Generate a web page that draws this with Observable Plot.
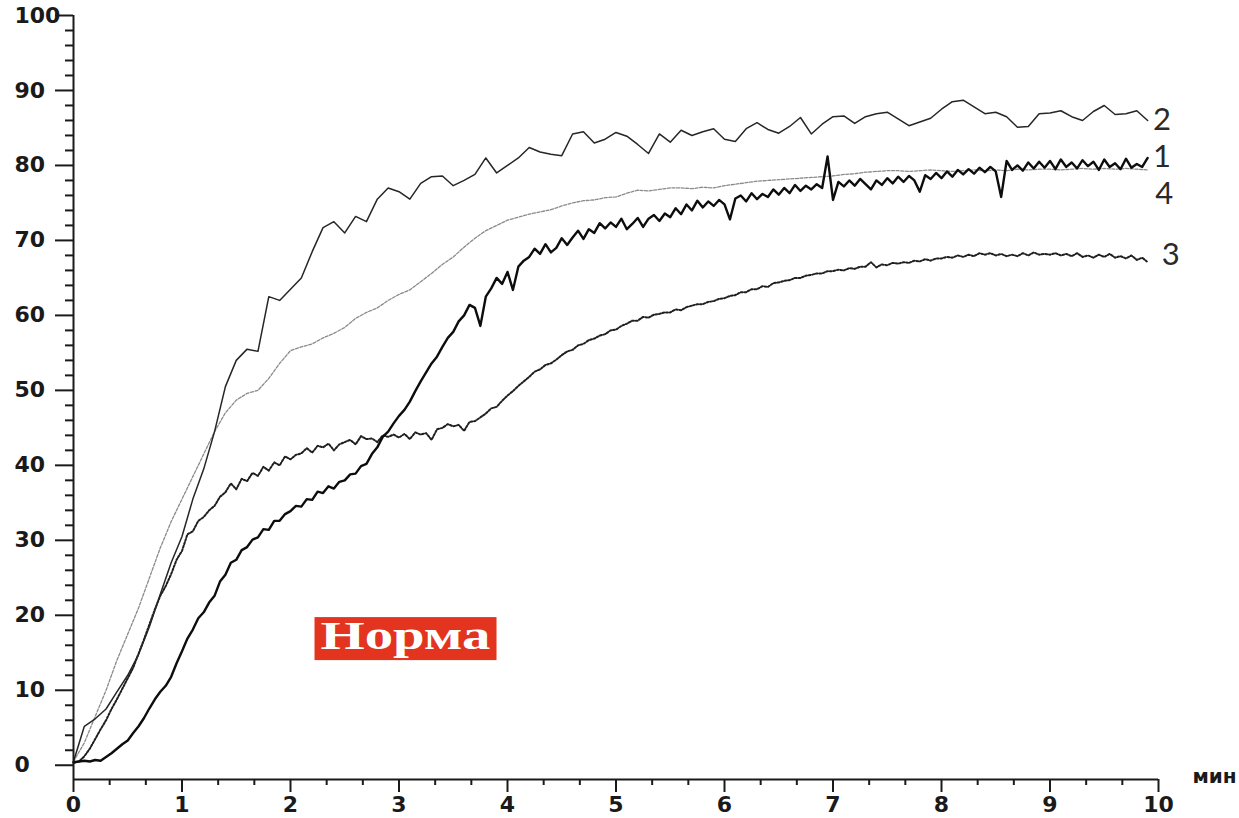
<!DOCTYPE html>
<html>
<head>
<meta charset="utf-8">
<script src="https://cdn.jsdelivr.net/npm/d3@7"></script>
<script src="https://cdn.jsdelivr.net/npm/@observablehq/plot@0.6"></script>
<style>
  html, body { margin: 0; padding: 0; background: #fff; }
  #chart { width: 1239px; height: 818px; overflow: hidden; }
</style>
</head>
<body>
<div id="chart"></div>
<script>
// ---------- data ----------
const minutes = [
  0,0.1,0.2,0.3,0.4,0.5,0.6,0.7,0.8,0.9,
  1,1.1,1.2,1.3,1.4,1.5,1.6,1.7,1.8,1.9,
  2,2.1,2.2,2.3,2.4,2.5,2.6,2.7,2.8,2.9,
  3,3.1,3.2,3.3,3.4,3.5,3.6,3.7,3.8,3.9,
  4,4.1,4.2,4.3,4.4,4.5,4.6,4.7,4.8,4.9,
  5,5.1,5.2,5.3,5.4,5.5,5.6,5.7,5.8,5.9,
  6,6.1,6.2,6.3,6.4,6.5,6.6,6.7,6.8,6.9,
  7,7.1,7.2,7.3,7.4,7.5,7.6,7.7,7.8,7.9,
  8,8.1,8.2,8.3,8.4,8.5,8.6,8.7,8.8,8.9,
  9,9.1,9.2,9.3,9.4,9.5,9.6,9.7,9.8,9.9
];
const minutesFine = [
  0,0.05,0.1,0.15,0.2,0.25,0.3,0.35,0.4,0.45,0.5,0.55,0.6,0.65,0.7,0.75,0.8,0.85,0.9,0.95,
  1,1.05,1.1,1.15,1.2,1.25,1.3,1.35,1.4,1.45,1.5,1.55,1.6,1.65,1.7,1.75,1.8,1.85,1.9,1.95,
  2,2.05,2.1,2.15,2.2,2.25,2.3,2.35,2.4,2.45,2.5,2.55,2.6,2.65,2.7,2.75,2.8,2.85,2.9,2.95,
  3,3.05,3.1,3.15,3.2,3.25,3.3,3.35,3.4,3.45,3.5,3.55,3.6,3.65,3.7,3.75,3.8,3.85,3.9,3.95,
  4,4.05,4.1,4.15,4.2,4.25,4.3,4.35,4.4,4.45,4.5,4.55,4.6,4.65,4.7,4.75,4.8,4.85,4.9,4.95,
  5,5.05,5.1,5.15,5.2,5.25,5.3,5.35,5.4,5.45,5.5,5.55,5.6,5.65,5.7,5.75,5.8,5.85,5.9,5.95,
  6,6.05,6.1,6.15,6.2,6.25,6.3,6.35,6.4,6.45,6.5,6.55,6.6,6.65,6.7,6.75,6.8,6.85,6.9,6.95,
  7,7.05,7.1,7.15,7.2,7.25,7.3,7.35,7.4,7.45,7.5,7.55,7.6,7.65,7.7,7.75,7.8,7.85,7.9,7.95,
  8,8.05,8.1,8.15,8.2,8.25,8.3,8.35,8.4,8.45,8.5,8.55,8.6,8.65,8.7,8.75,8.8,8.85,8.9,8.95,
  9,9.05,9.1,9.15,9.2,9.25,9.3,9.35,9.4,9.45,9.5,9.55,9.6,9.65,9.7,9.75,9.8,9.85,9.9
];

// curve 1 (bold, sampled every 0.05 min)
const curve1 = [
  0.4,0.5,0.6,0.5,0.7,0.6,1.1,1.6,2.2,2.8,3.3,4.3,5.2,6.3,7.6,8.8,9.8,10.6,11.8,13.6,
  15.2,16.9,18.1,19.6,20.4,21.7,22.6,24.5,25.4,27.0,27.4,28.7,29.1,30.1,30.4,31.5,31.4,32.6,32.6,33.5,
  33.9,34.6,34.5,35.5,35.4,36.5,36.3,37.2,36.9,37.8,38.0,38.8,38.9,39.9,40.2,41.5,42.4,43.8,44.5,45.6,
  46.6,47.4,48.5,49.9,51.2,52.4,53.6,54.5,55.8,57.0,57.8,59.2,60.0,61.4,61.0,58.6,62.5,63.6,65.0,64.2,
  65.8,63.4,66.5,67.3,67.8,68.9,68.2,69.5,68.4,69.0,70.3,69.4,70.4,71.3,70.2,71.5,71.0,72.3,71.6,72.4,
  71.8,72.9,71.5,72.2,73.0,71.8,72.9,73.4,72.6,73.6,73.1,74.3,73.5,74.8,74.0,75.3,74.4,75.2,74.6,75.4,
  74.8,72.8,75.6,76.0,75.2,76.3,75.5,76.2,75.8,76.8,76.1,77.0,76.3,77.4,76.6,77.3,76.8,77.5,77.0,81.2,
  75.4,77.8,77.2,78.0,77.3,78.2,77.5,76.8,78.0,77.4,78.3,77.6,78.5,77.8,78.6,78.0,76.5,78.7,78.2,79.0,
  78.3,79.2,78.5,79.4,78.8,79.5,78.9,79.7,79.1,79.8,79.2,75.8,80.6,79.4,80.0,79.3,80.4,79.6,80.5,79.7,
  80.6,79.5,80.8,79.8,80.4,79.6,80.7,79.9,80.5,79.4,80.8,79.8,80.3,79.5,80.9,79.7,80.2,79.8,81.0
];

// curve 2 (thin solid, every 0.1 min)
const curve2 = [
  0.5,5.2,6.2,7.5,9.8,12.0,14.8,18.5,22.8,27.0,
  30.5,35.5,39.5,44.5,50.5,54.0,55.5,55.2,62.5,62.0,
  63.5,65.0,68.5,71.7,72.5,71.0,73.2,72.5,75.5,77.0,
  76.5,75.5,77.6,78.5,78.6,77.3,78.0,78.8,81.0,79.0,
  80.0,81.0,82.4,81.8,81.5,81.3,84.2,84.5,83.0,83.5,
  84.4,83.9,82.8,81.6,84.2,83.1,84.7,84.0,84.5,84.9,
  83.5,83.2,84.9,85.7,84.8,84.3,85.2,86.4,84.2,85.5,
  86.5,86.6,85.6,86.5,86.9,87.1,86.2,85.3,85.8,86.3,
  87.5,88.5,88.7,87.8,86.9,87.1,86.5,85.1,85.2,86.9,
  87.0,87.3,86.5,86.0,87.2,88.0,86.8,86.9,87.3,86.0
];

// curve 3 (dark dotted, every 0.05 min)
const curve3 = [
  0.3,0.5,1.2,2.2,3.5,4.8,6.0,7.5,8.8,10.2,11.6,13.0,14.9,16.8,18.8,20.8,22.6,23.9,25.5,27.4,
  28.6,30.8,31.2,32.6,33.1,34.0,34.6,35.8,36.4,37.6,36.8,38.2,37.9,39.0,38.6,39.8,39.3,40.4,40.0,41.2,
  40.8,41.4,41.6,42.3,41.7,42.6,42.4,42.9,42.0,42.8,43.1,43.4,42.8,43.9,43.5,43.6,43.1,44.0,43.8,44.1,
  43.7,44.2,43.5,44.4,44.1,44.3,43.4,44.8,45.0,45.5,45.2,45.4,44.6,45.8,45.9,46.4,46.9,47.6,47.8,48.6,
  49.3,49.9,50.6,51.2,51.8,52.5,52.8,53.4,53.6,54.1,54.7,55.2,55.4,56.0,56.2,56.7,56.9,57.3,57.5,58.0,
  58.1,58.6,58.9,59.3,59.3,59.8,59.7,60.1,60.2,60.4,60.4,60.8,60.7,61.1,61.3,61.5,61.5,61.8,61.9,62.2,
  62.3,62.6,62.7,63.1,63.1,63.5,63.5,63.9,63.8,64.3,64.4,64.6,64.7,65.0,65.0,65.3,65.4,65.6,65.6,65.9,
  65.9,66.1,66.0,66.3,66.2,66.5,66.5,67.1,66.4,66.8,66.7,67.0,66.9,67.1,67.0,67.3,67.2,67.5,67.3,67.6,
  67.6,67.8,67.7,68.0,67.8,68.1,67.9,68.3,68.1,68.3,68.0,68.2,67.9,68.1,67.9,68.3,68.0,68.4,68.1,68.2,
  68.1,68.3,68.0,68.2,67.9,68.3,67.8,68.0,67.7,68.1,67.8,68.2,67.7,67.9,67.6,68.0,67.4,67.7,67.1
];

// curve 4 (light dotted, every 0.1 min)
const curve4 = [
  0.5,3.0,6.5,10.0,14.0,17.5,21.0,25.0,29.0,32.5,
  35.5,38.5,41.5,44.5,47.0,48.7,49.6,50.0,51.6,53.6,
  55.3,55.8,56.2,57.0,57.6,58.4,59.6,60.4,61.0,62.0,
  62.8,63.4,64.5,65.6,66.8,67.8,69.1,70.3,71.3,72.0,
  72.7,73.1,73.5,73.8,74.1,74.6,75.0,75.3,75.4,75.7,
  75.8,76.3,76.7,76.6,76.8,77.0,77.0,76.9,77.1,77.0,
  77.3,77.5,77.7,77.9,78.0,78.1,78.2,78.3,78.4,78.5,
  78.6,78.8,78.9,79.1,79.2,79.3,79.3,79.2,79.3,79.4,
  79.3,79.2,79.3,79.4,79.3,79.4,79.3,79.5,79.4,79.5,
  79.5,79.4,79.5,79.6,79.5,79.6,79.5,79.6,79.5,79.4
];

const seriesNames = ["1", "2", "3", "4"];
const seriesLabelT = [9.95, 9.95, 10.03, 9.97];
const seriesLabelV = [81.1, 86.1, 68.0, 76.2];

const yMajor = [0,10,20,30,40,50,60,70,80,90,100];
const xMajor = [0,1,2,3,4,5,6,7,8,9,10];
const xUnit = "мин";
const noteText = "Норма";

// ---------- build rows ----------
const toRows = (name, ts, vs) => vs.map((v, i) => ({series: name, t: ts[i], v}));
const rows1 = toRows("1", minutesFine, curve1);
const rows2 = toRows("2", minutes, curve2);
const rows3 = toRows("3", minutesFine, curve3);
const rows4 = toRows("4", minutes, curve4);
const labelRows = seriesNames.map((s, i) => ({s, t: seriesLabelT[i], v: seriesLabelV[i]}));

const yMin = -1.9;
const yMinor = d3.range(0, 101, 2).filter(v => v % 10 !== 0);
const xMinor = d3.range(0, 30).filter(i => i % 3 !== 0).map(i => i / 3);
const notePos = {t: 3.06, v: 17.2};

const axisColor = "#1a1a1a";
const tickFont = "DejaVu Sans, Liberation Sans, sans-serif";

const chart = Plot.plot({
  width: 1239,
  height: 818,
  marginLeft: 73,
  marginRight: 81,
  marginTop: 15,
  marginBottom: 39,
  x: {domain: [0, 10], axis: null},
  y: {domain: [yMin, 100], axis: null},
  style: {background: "#fff", fontFamily: tickFont, color: axisColor},
  marks: [
    Plot.line(rows4, {x: "t", y: "v", stroke: "#8a8a8a", strokeWidth: 1.3, strokeDasharray: "3,1.6"}),
    Plot.line(rows3, {x: "t", y: "v", stroke: "#1f1f1f", strokeWidth: 2, strokeDasharray: "1.8,1.8"}),
    Plot.line(rows2, {x: "t", y: "v", stroke: "#262626", strokeWidth: 1.5}),
    Plot.line(rows1, {x: "t", y: "v", stroke: "#0d0d0d", strokeWidth: 2.4}),

    Plot.ruleX([0], {stroke: axisColor, strokeWidth: 2}),
    Plot.ruleY([yMin], {stroke: axisColor, strokeWidth: 2}),

    Plot.axisY(yMinor, {anchor: "left", label: null, tickSize: 8, tickFormat: () => "", stroke: axisColor, strokeWidth: 2}),
    Plot.axisY(yMajor, {anchor: "left", label: null, tickSize: 18, tickPadding: 41, textAnchor: "start",
      fontSize: 22, fontWeight: "bold", fontFamily: tickFont, fill: axisColor, stroke: axisColor, strokeWidth: 2}),

    Plot.axisX(xMinor, {anchor: "bottom", label: null, tickSize: 6, tickFormat: () => "", stroke: axisColor, strokeWidth: 2}),
    Plot.axisX(xMajor, {anchor: "bottom", label: null, tickSize: 13, tickPadding: 4,
      fontSize: 22, fontWeight: "bold", fontFamily: tickFont, fill: axisColor, stroke: axisColor, strokeWidth: 2}),

    Plot.text([xUnit], {x: 10, y: yMin, text: d => d, dx: 34, dy: -3, textAnchor: "start",
      fontSize: 20, fontWeight: "bold", fontFamily: tickFont, fill: axisColor}),

    Plot.text(labelRows, {x: "t", y: "v", text: "s", textAnchor: "start",
      fontSize: 31, fontFamily: "Lato, Open Sans, sans-serif", fontWeight: 400, fill: "#2a2a2a"}),

    Plot.text([noteText], {x: notePos.t, y: notePos.v, text: d => d, className: "note",
      fontSize: 40, fontWeight: "bold", fontFamily: "Liberation Serif, Times New Roman, serif", fill: "#fff"})
  ]
});

document.getElementById("chart").appendChild(chart);

const noteEl = chart.querySelector("g.note text") || Array.from(chart.querySelectorAll("text")).find(t => t.textContent === noteText);
if (noteEl) {
  noteEl.setAttribute("textLength", 170);
  noteEl.setAttribute("lengthAdjust", "spacingAndGlyphs");
  const bb = noteEl.getBBox();
  const g = noteEl.parentNode;
  const rect = document.createElementNS("http://www.w3.org/2000/svg", "rect");
  const padX = 6;
  rect.setAttribute("x", bb.x - padX);
  rect.setAttribute("y", bb.y + 4);
  rect.setAttribute("width", bb.width + 2 * padX);
  rect.setAttribute("height", bb.height - 2);
  rect.setAttribute("fill", "#e2341f");
  const tr = noteEl.getAttribute("transform");
  if (tr) rect.setAttribute("transform", tr);
  g.insertBefore(rect, noteEl);
}
</script>
</body>
</html>
